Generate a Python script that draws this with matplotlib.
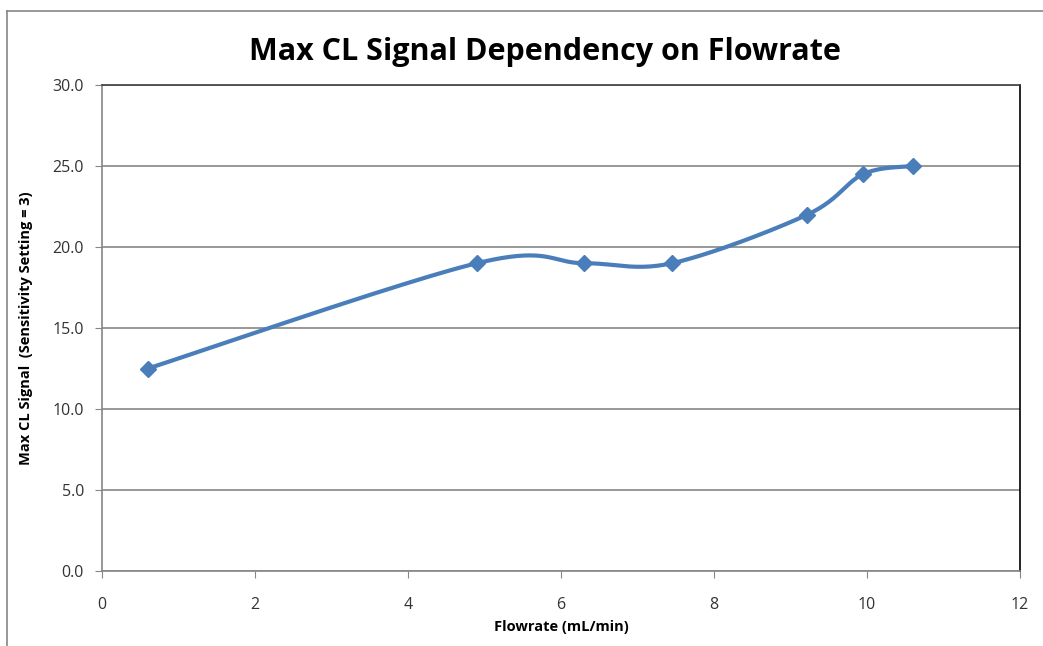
import matplotlib
matplotlib.use('Agg')
import matplotlib.pyplot as plt
import numpy as np
from matplotlib.lines import Line2D

plt.rcParams['font.family'] = ['Open Sans', 'DejaVu Sans']

flowrate = [0.6, 4.9, 6.3, 7.45, 9.22, 9.95, 10.6]
signal = [12.5, 19.0, 19.0, 19.0, 22.0, 24.5, 25.0]
yticks = [0, 5, 10, 15, 20, 25, 30]
xticks = [0, 2, 4, 6, 8, 10, 12]


def smooth(x, y, n=40):
    # Excel-like smoothed line: Catmull-Rom spline through the points
    x = np.asarray(x, float)
    y = np.asarray(y, float)
    px = np.concatenate([[x[0]], x, [x[-1]]])
    py = np.concatenate([[y[0]], y, [y[-1]]])
    xs, ys = [], []
    t = np.linspace(0, 1, n)
    for i in range(1, len(px) - 2):
        p0, p1, p2, p3 = (np.array([px[j], py[j]]) for j in range(i - 1, i + 3))
        c1 = p1 + (p2 - p0) / 6
        c2 = p2 - (p3 - p1) / 6
        seg = ((1 - t) ** 3)[:, None] * p1 + (3 * (1 - t) ** 2 * t)[:, None] * c1 \
            + (3 * (1 - t) * t ** 2)[:, None] * c2 + (t ** 3)[:, None] * p2
        xs.extend(seg[:, 0])
        ys.extend(seg[:, 1])
    return np.array(xs), np.array(ys)


fig = plt.figure(figsize=(10.43, 6.46), dpi=100)
ax = fig.add_axes([0.0978, 0.1161, 0.8802, 0.7523])

sx, sy = smooth(flowrate, signal)
ax.plot(sx, sy, color='#4a7ebb', lw=3, solid_capstyle='round', zorder=3)
ax.plot(flowrate, signal, ls='none', marker='D', ms=8, color='#4a7ebb', zorder=4)

ax.set_xlim(0, 12)
ax.set_ylim(0, 30)
ax.set_xticks(xticks)
ax.set_yticks(yticks)
ax.set_yticklabels([f'{v:.1f}' for v in yticks])
ax.grid(axis='y', color='#868686', lw=1.2)
ax.set_axisbelow(True)

for s in ['left', 'bottom']:
    ax.spines[s].set_color('#868686')
    ax.spines[s].set_linewidth(1.2)
ax.spines['top'].set_color('#404040')
ax.spines['right'].set_color('black')
ax.spines['top'].set_linewidth(1.2)
ax.spines['right'].set_linewidth(1.2)

ax.tick_params(axis='both', direction='out', length=5, color='#868686',
               labelsize=11.5, labelcolor='#333333')
ax.tick_params(axis='y', pad=8)
ax.tick_params(axis='x', pad=14)

ax.set_title('Max CL Signal Dependency on Flowrate', fontsize=22,
             fontweight='bold', pad=18, x=0.482)
ax.set_xlabel('Flowrate (mL/min)', fontsize=10.5, fontweight='bold', labelpad=5)
ax.set_ylabel('Max CL Signal  (Sensitivity Setting = 3)', fontsize=10.5,
              fontweight='bold', labelpad=14)

# outer chart border
fig.add_artist(Line2D([0.0067, 0.0067], [0.0, 0.983], transform=fig.transFigure,
                      color='#868686', lw=1.2))
fig.add_artist(Line2D([0.0067, 1.0], [0.983, 0.983], transform=fig.transFigure,
                      color='#868686', lw=1.2))

fig.savefig('out.png', dpi=100)
